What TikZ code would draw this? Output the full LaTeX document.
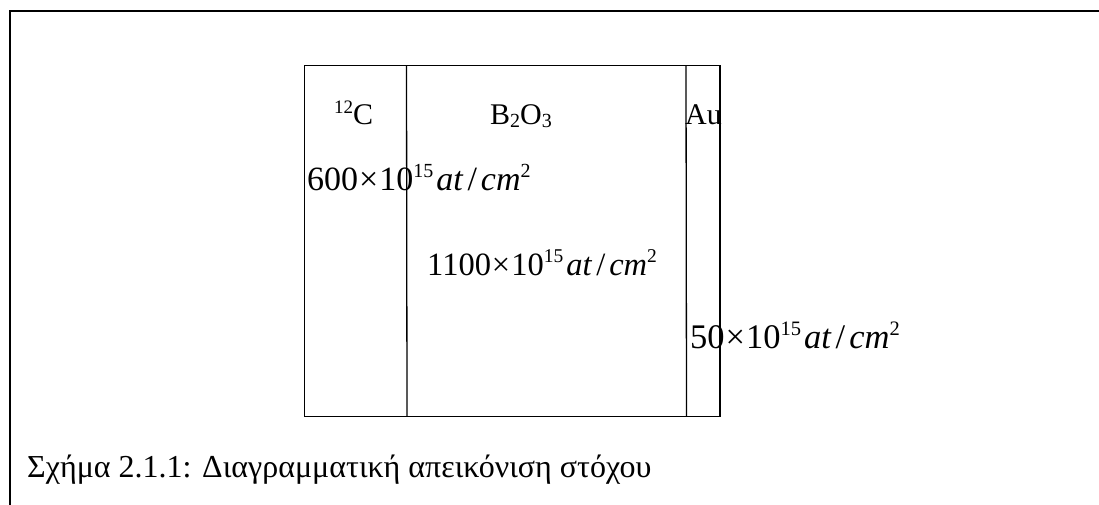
\documentclass[tikz,border=0pt]{standalone}
\usepackage{fontspec}
\setmainfont{Liberation Serif}
\newcommand\rsup[3]{\raisebox{#1}{\fontsize{#2}{#2}\selectfont #3}}
% #1 number, #2 font size, #3 superscript size, #4 raise
\newcommand\densitytext[4]{%
  {\fontsize{#2}{#2}\selectfont #1\kern1pt×\kern1pt 10\rsup{#4}{#3}{15}\kern3pt\textit{at}\kern4pt/\kern4pt\textit{cm}\rsup{#4}{#3}{2}}}
\begin{document}
\begin{tikzpicture}[x=1pt,y=-1pt,
  frameline/.style={line width=1.6pt, line cap=rect},
  layerline/.style={line width=1.3pt},
  lbl/.style={anchor=base west, inner sep=0pt, font=\fontsize{30}{32}\selectfont},
  eqtext/.style={anchor=base west, inner sep=0pt},
  captiontext/.style={anchor=base west, inner sep=0pt, font=\fontsize{32}{34}\selectfont}]
\useasboundingbox (0,0) rectangle (1099,504);
% outer frame (top and left edges visible)
\coordinate (ftl) at (10,11);
\coordinate (ftr) at (1099,11);
\coordinate (fbl) at (10,504);
\draw[frameline] (ftr) -- (ftl) -- (fbl);
% target box
\coordinate (tl) at (304.5,65.5);
\coordinate (br) at (720,416.5);
\draw[layerline] (tl) rectangle (br);
\coordinate (d1t) at (406.5,65.5);
\coordinate (d1b) at (407,416.5);
\coordinate (d2t) at (686,65.5);
\coordinate (d2b) at (686.5,416.5);
\draw[layerline] (d1t) -- (d1b);
\draw[layerline] (d2t) -- (d2b);
% layer labels
\node[lbl] (c12) at (334,124) {\rsup{11pt}{19}{12}C};
\node[lbl] (b2o3) at (490,124) {B\raisebox{-3pt}{\fontsize{20}{20}\selectfont 2}O\raisebox{-3pt}{\fontsize{20}{20}\selectfont 3}};
\node[lbl] (au) at (685,124) {Au};
% thicknesses
\node[eqtext] (t1) at (307,190) {\densitytext{600}{34}{20}{13pt}};
\node[eqtext] (t2) at (427,275) {\densitytext{1100}{32.5}{19.5}{12.5pt}};
\node[eqtext] (t3) at (690,348) {\densitytext{50}{34.5}{20.5}{13pt}};
% caption
\node[captiontext] (caption) at (27,477) {Σχήμα 2.1.1: Διαγραμματική απεικόνιση στόχου};
\end{tikzpicture}
\end{document}
